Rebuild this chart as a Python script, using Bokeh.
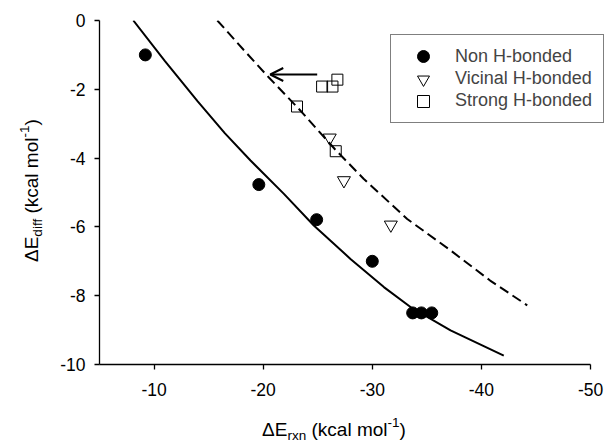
from bokeh.plotting import figure
from bokeh.layouts import row, column
from bokeh.models import Range1d, FixedTicker, Legend, LegendItem, Arrow, OpenHead, Div
from bokeh.embed import file_html
from bokeh.resources import INLINE

# ---------------- data ----------------
non_x = [-9.2, -19.6, -24.9, -30.0, -33.7, -34.5, -35.45]
non_y = [-1.0, -4.77, -5.79, -7.0, -8.5, -8.5, -8.5]

vic_x = [-26.1, -27.4, -31.7]
vic_y = [-3.41, -4.65, -5.94]

str_x = [-23.1, -25.4, -26.35, -26.8, -26.65]
str_y = [-2.5, -1.92, -1.92, -1.72, -3.8]

fit_solid_x = [-8.1, -11.0, -14.0, -16.5, -18.84, -21.9, -24.64, -28.0, -31.06, -33.5, -37.17, -42.05]
fit_solid_y = [0.0, -1.18, -2.35, -3.28, -4.07, -5.04, -5.96, -6.93, -7.75, -8.33, -9.01, -9.74]

fit_dash_x = [-15.8, -18.2, -20.5, -23.3, -26.6, -29.2, -33.2, -37.2, -40.8, -44.2]
fit_dash_y = [0.0, -0.85, -1.65, -2.58, -3.75, -4.6, -5.77, -6.69, -7.56, -8.28]

arrow_tail = (-24.95, -1.57)
arrow_tip = (-20.65, -1.57)

x_ticks = [-10, -20, -30, -40, -50]
x_tick_labels = ["-10", "-20", "-30", "-40", "-50"]
y_ticks = [0, -2, -4, -6, -8, -10]
y_tick_labels = ["0", "-2", "-4", "-6", "-8", "-10"]

legend_labels = ["Non H-bonded", "Vicinal H-bonded", "Strong H-bonded"]

# ---------------- layout ----------------
FONT = "Liberation Sans"
YT_W = 46                 # strip for the y title
MAIN_W, MAIN_H = 559, 410
XT_H = 444 - MAIN_H       # strip for the x title
L, R, T, B = 53, 1, 20, 46

p = figure(width=MAIN_W, height=MAIN_H, output_backend="svg", toolbar_location=None,
           x_range=Range1d(-5, -51.28), y_range=Range1d(-10, 0),
           min_border_left=L, min_border_right=R, min_border_top=T, min_border_bottom=B)
p.outline_line_color = None
p.grid.visible = False
p.background_fill_color = "white"
p.border_fill_color = "white"

for ax in (p.xaxis[0], p.yaxis[0]):
    ax.axis_line_color = "black"
    ax.axis_line_width = 1.3
    ax.major_tick_line_color = "black"
    ax.major_tick_line_width = 1.3
    ax.major_tick_out = 5
    ax.major_tick_in = 0
    ax.minor_tick_line_color = None
    ax.major_label_text_font = FONT
    ax.major_label_text_font_size = "17.5px"
    ax.major_label_text_color = "black"
    ax.axis_label = None
p.xaxis.ticker = FixedTicker(ticks=x_ticks)
p.yaxis.ticker = FixedTicker(ticks=y_ticks)
p.xaxis.major_label_overrides = {t: s for t, s in zip(x_ticks, x_tick_labels)}
p.yaxis.major_label_overrides = {t: s for t, s in zip(y_ticks, y_tick_labels)}
p.xaxis.bounds = (min(x_ticks), -5)
p.xaxis.major_label_standoff = 13
p.yaxis.major_label_standoff = 9

# ---------------- curves and points ----------------
p.line(fit_solid_x, fit_solid_y, line_color="black", line_width=2)
p.line(fit_dash_x, fit_dash_y, line_color="black", line_width=2, line_dash="10 5")

r_non = p.scatter(non_x, non_y, marker="circle", size=12,
                  fill_color="black", line_color="black")
r_vic = p.scatter(vic_x, vic_y, marker="inverted_triangle", size=13,
                  fill_alpha=0, line_color="black", line_width=1)
r_str = p.scatter(str_x, str_y, marker="square", size=11,
                  fill_alpha=0, line_color="black", line_width=1)

p.add_layout(Arrow(end=OpenHead(size=13, line_width=2, line_color="black"),
                   x_start=arrow_tail[0], y_start=arrow_tail[1],
                   x_end=arrow_tip[0], y_end=arrow_tip[1],
                   line_width=2.2, line_color="black"))

# ---------------- legend: box + labels, then larger keys ----------------
dummies = [p.scatter([], [], marker="circle", fill_alpha=0, line_alpha=0) for _ in legend_labels]
box = Legend(items=[LegendItem(label=lab, renderers=[d]) for lab, d in zip(legend_labels, dummies)],
             location=(291, 241),
             border_line_color="black", border_line_width=1,
             background_fill_color="white", background_fill_alpha=1,
             label_text_font=FONT, label_text_font_size="18px",
             glyph_width=44, glyph_height=20, label_height=20,
             spacing=1, padding=11, label_standoff=9, margin=0)
p.add_layout(box)

for i, r in enumerate([r_non, r_vic, r_str]):
    key = Legend(items=[LegendItem(label=" ", renderers=[r])],
                 location=(302, 293 - 22.6 * i),
                 border_line_color=None, background_fill_alpha=0,
                 label_text_alpha=0, label_text_font_size="10px",
                 glyph_width=44, glyph_height=30, label_height=20,
                 spacing=0, padding=0, label_standoff=0, margin=0)
    p.add_layout(key)

# ---------------- axis titles as HTML (real sub/superscripts) ----------------
MAIN_FS, SMALL_FS = 19, 13.5


def title_html(sub):
    small = f"font-size:{SMALL_FS}px;position:relative;"
    return (f"ΔE<span style='{small}top:4px'>{sub}</span> (kcal mol"
            f"<span style='{small}top:-9px'>-1</span>)")


base_style = (f"position:absolute;white-space:nowrap;font-family:'{FONT}';"
              f"font-size:{MAIN_FS}px;line-height:1;color:black;")

# y title, reading upward; its baseline sits at x = 38, starting at y = 262
y_html = (f"<div style='position:relative;width:{YT_W}px;height:444px;overflow:visible'>"
          f"<span style=\"{base_style}left:22px;top:262px;"
          f"transform-origin:0 0;transform:rotate(-90deg)\">{title_html('diff')}</span></div>")

# x title, centred at page x = 334, baseline at page y = 436
x_html = (f"<div style='position:relative;width:{MAIN_W}px;height:{XT_H}px;overflow:visible'>"
          f"<span style=\"{base_style}left:0;top:10px;width:{2 * (334 - YT_W)}px;"
          f"text-align:center\">{title_html('rxn')}</span></div>")

ydiv = Div(text=y_html, width=YT_W, height=444, margin=0)
xdiv = Div(text=x_html, width=MAIN_W, height=XT_H, margin=0)

layout = row(ydiv, column(p, xdiv))
open("out.html", "w").write(file_html(layout, INLINE))
